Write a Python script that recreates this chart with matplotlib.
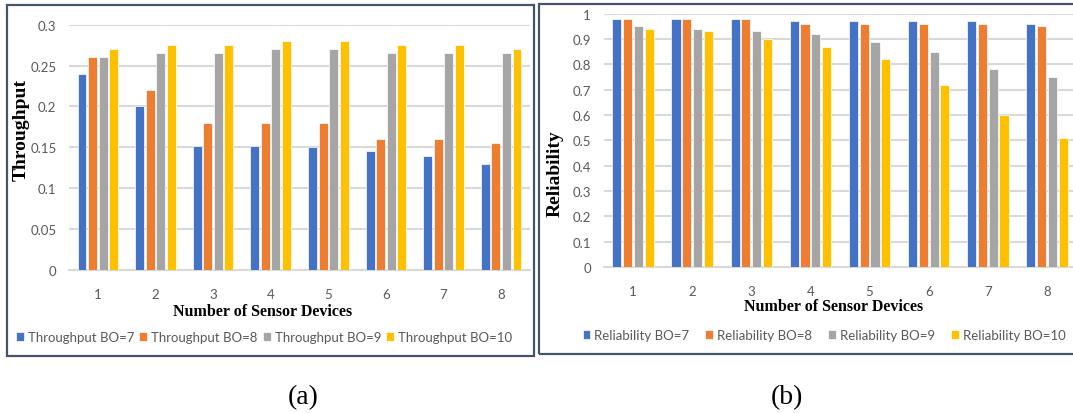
import matplotlib

matplotlib.use("Agg")
import matplotlib.pyplot as plt
from matplotlib.patches import Rectangle
import numpy as np

# data
devices = [1, 2, 3, 4, 5, 6, 7, 8]
bo_labels = ["BO=7", "BO=8", "BO=9", "BO=10"]

throughput_bo7 = [0.24, 0.20, 0.152, 0.152, 0.15, 0.145, 0.14, 0.13]
throughput_bo8 = [0.26, 0.22, 0.18, 0.18, 0.18, 0.16, 0.16, 0.155]
throughput_bo9 = [0.26, 0.265, 0.265, 0.27, 0.27, 0.265, 0.265, 0.265]
throughput_bo10 = [0.27, 0.275, 0.275, 0.28, 0.28, 0.275, 0.275, 0.27]

reliability_bo7 = [0.98, 0.98, 0.98, 0.97, 0.97, 0.97, 0.97, 0.96]
reliability_bo8 = [0.98, 0.98, 0.98, 0.96, 0.96, 0.96, 0.96, 0.95]
reliability_bo9 = [0.95, 0.94, 0.93, 0.92, 0.89, 0.85, 0.78, 0.75]
reliability_bo10 = [0.94, 0.93, 0.90, 0.87, 0.82, 0.72, 0.60, 0.51]

throughput_ticks = [0, 0.05, 0.1, 0.15, 0.2, 0.25, 0.3]
reliability_ticks = [0, 0.1, 0.2, 0.3, 0.4, 0.5, 0.6, 0.7, 0.8, 0.9, 1]

COLORS = ["#4472C4", "#ED7D31", "#A5A5A5", "#FFC000"]
GRID = "#d9d9d9"
TICK_COLOR = "#595959"
FRAME = "#44546a"
W, H = 1073, 414


def px_box(x0, y0, x1, y1):
    # pixel box (top-left origin) -> figure fraction [left, bottom, width, height]
    return [x0 / W, 1 - y1 / H, (x1 - x0) / W, (y1 - y0) / H]


def draw_panel(fig, rect, series, ticks, prefix, ylabel, ylabel_xy, xlabel_xy, legend_xy, colspace):
    ax = fig.add_axes(rect)
    x = np.array(devices, dtype=float)
    step = 0.183
    handles = []
    for i, (vals, color) in enumerate(zip(series, COLORS)):
        b = ax.bar(x + (i - 1.5) * step, vals, width=0.155, color=color,
                   edgecolor="white", linewidth=0.5, zorder=3)
        handles.append(b)
    ax.set_xlim(0.5, 8.5)
    ax.set_ylim(0, ticks[-1])
    ax.set_yticks(ticks)
    ax.set_yticklabels([f"{t:g}" for t in ticks])
    ax.set_xticks(devices)
    ax.grid(axis="y", color=GRID, linewidth=1.5, zorder=0)
    for side in ["top", "right", "left"]:
        ax.spines[side].set_visible(False)
    ax.spines["bottom"].set_color(GRID)
    ax.spines["bottom"].set_linewidth(1.5)
    ax.tick_params(length=0, colors=TICK_COLOR, labelsize=9.5)
    ax.tick_params(axis="y", pad=9)
    ax.tick_params(axis="x", pad=13)
    for lab in ax.get_xticklabels() + ax.get_yticklabels():
        lab.set_family("Lato")

    fig.text(ylabel_xy[0] / W, 1 - ylabel_xy[1] / H, ylabel, rotation=90,
             ha="center", va="center", family="Liberation Serif", weight="bold", fontsize=14)
    fig.text(xlabel_xy[0] / W, 1 - xlabel_xy[1] / H, "Number of Sensor Devices",
             ha="center", va="center", family="Liberation Serif", weight="bold", fontsize=11.5)

    fig.legend(handles, [f"{prefix} {lab}" for lab in bo_labels], ncol=4,
               loc="center", bbox_to_anchor=(legend_xy[0] / W, 1 - legend_xy[1] / H),
               frameon=False, handlelength=0.6, handleheight=0.6, handletextpad=0.3,
               columnspacing=colspace, prop={"family": "Lato", "size": 9.5},
               labelcolor=TICK_COLOR, borderpad=0)
    return ax


fig = plt.figure(figsize=(W / 100, H / 100), dpi=100)

fig.add_artist(Rectangle((7 / W, 1 - 357 / H), (534 - 7) / W, (357 - 6) / H,
                         transform=fig.transFigure, fill=False, edgecolor=FRAME, linewidth=1.6))
fig.add_artist(Rectangle((539 / W, 1 - 355 / H), (1085 - 539) / W, (355 - 5) / H,
                         transform=fig.transFigure, fill=False, edgecolor=FRAME, linewidth=1.6))

draw_panel(fig, px_box(69, 25.7, 530, 271),
           [throughput_bo7, throughput_bo8, throughput_bo9, throughput_bo10],
           throughput_ticks, "Throughput", "Throughput",
           (21, 130), (263, 312), (264, 338), 0.4)

draw_panel(fig, px_box(603.5, 14.7, 1076.5, 268),
           [reliability_bo7, reliability_bo8, reliability_bo9, reliability_bo10],
           reliability_ticks, "Reliability", "Reliability",
           (555, 174), (834, 307), (824, 336), 1.2)

fig.text(303 / W, 1 - 398 / H, "(a)", ha="center", va="center",
         family="Liberation Serif", fontsize=20)
fig.text(787 / W, 1 - 398 / H, "(b)", ha="center", va="center",
         family="Liberation Serif", fontsize=20)

fig.savefig("out.png", dpi=100, facecolor="white")
